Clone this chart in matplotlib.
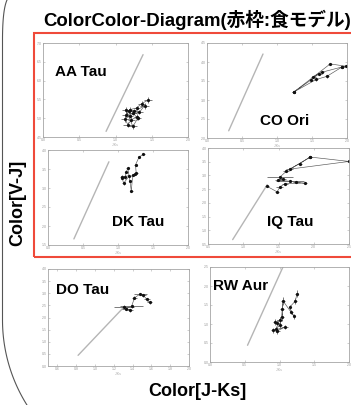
import numpy as np
import matplotlib
matplotlib.use("Agg")
import matplotlib.pyplot as plt
from matplotlib.patches import Rectangle
from matplotlib.lines import Line2D

W, H = 351, 405
plt.rcParams['font.family'] = ['Liberation Sans', 'Noto Sans CJK JP', 'DejaVu Sans']

# ---------------- data ----------------
title = "ColorColor-Diagram(赤枠:食モデル)"
xlabel = "Color[J-Ks]"
ylabel = "Color[V-J]"
names = ["AA Tau", "CO Ori", "DK Tau", "IQ Tau", "DO Tau", "RW Aur"]

# AA Tau
aa_xlim = (0.0, 2.0); aa_ylim = (4.5, 7.0)
aa_xticks = [0, 0.5, 1, 1.5, 2]; aa_yticks = [4.5, 5, 5.5, 6, 6.5, 7]
aa_line_x = [0.87, 1.38]; aa_line_y = [4.65, 6.69]
aa_x = [1.45, 1.36, 1.29, 1.20, 1.15, 1.24, 1.29, 1.22, 1.17, 1.13, 1.20, 1.33, 1.40, 1.26, 1.19, 1.14, 1.24, 1.31]
aa_y = [5.48, 5.39, 5.27, 5.23, 5.09, 5.14, 5.03, 4.96, 4.83, 4.98, 5.07, 5.16, 5.33, 5.18, 5.18, 5.23, 4.78, 5.01]
aa_xerr = [0.06, 0.05, 0.04, 0.05, 0.06, 0.05, 0.04, 0.05, 0.06, 0.05, 0.04, 0.05, 0.06, 0.05, 0.04, 0.05, 0.05, 0.04]
aa_yerr = [0.08, 0.07, 0.06, 0.08, 0.07, 0.06, 0.08, 0.07, 0.06, 0.08, 0.07, 0.06, 0.08, 0.07, 0.06, 0.08, 0.07, 0.06]

# CO Ori
co_xlim = (0.0, 2.0); co_ylim = (2.0, 4.5)
co_xticks = [0, 0.5, 1, 1.5, 2]; co_yticks = [2, 2.5, 3, 3.5, 4, 4.5]
co_line_x = [0.31, 0.80]; co_line_y = [2.19, 4.21]
co_x = [1.24, 1.76, 1.98, 1.93, 1.64, 1.52, 1.60, 1.48, 1.24, 1.56, 1.71, 1.93]
co_y = [3.21, 3.95, 3.89, 3.87, 3.73, 3.61, 3.69, 3.52, 3.21, 3.54, 3.62, 3.87]
co_xerr = [0.02, 0.03, 0.04, 0.03, 0.03, 0.03, 0.04, 0.03, 0.02, 0.03, 0.03, 0.03]
co_yerr = [0.03, 0.03, 0.03, 0.03, 0.03, 0.03, 0.03, 0.03, 0.03, 0.03, 0.03, 0.03]

# DK Tau
dk_xlim = (0.0, 2.0); dk_ylim = (1.5, 4.0)
dk_xticks = [0, 0.5, 1, 1.5, 2]; dk_yticks = [1.5, 2, 2.5, 3, 3.5, 4]
dk_line_x = [0.37, 0.87]; dk_line_y = [1.66, 3.69]
dk_x = [1.36, 1.30, 1.25, 1.26, 1.24, 1.21, 1.19, 1.17, 1.14, 1.12, 1.10, 1.06, 1.08, 1.16, 1.05]
dk_y = [3.89, 3.81, 3.61, 3.39, 3.37, 3.34, 2.92, 3.19, 3.52, 3.43, 3.28, 3.27, 3.12, 3.32, 3.30]
dk_xerr = [0.02, 0.02, 0.02, 0.02, 0.02, 0.02, 0.02, 0.02, 0.02, 0.02, 0.02, 0.02, 0.02, 0.02, 0.02]
dk_yerr = [0.03, 0.03, 0.03, 0.03, 0.03, 0.03, 0.03, 0.03, 0.03, 0.03, 0.03, 0.03, 0.03, 0.03, 0.03]

# IQ Tau
iq_xlim = (0.5, 2.5); iq_ylim = (0.5, 4.0)
iq_xticks = [0.5, 1, 1.5, 2, 2.5]; iq_yticks = [0.5, 1, 1.5, 2, 2.5, 3, 3.5, 4]
iq_line_x = [0.85, 1.34]; iq_line_y = [0.66, 2.66]
iq_x = [1.34, 1.48, 1.52, 1.59, 1.87, 1.75, 1.66, 1.49, 1.56, 1.52, 1.61, 1.95, 2.50, 1.66, 1.80, 1.95]
iq_y = [2.60, 2.40, 2.58, 2.70, 2.72, 2.75, 2.79, 2.82, 2.87, 2.94, 3.15, 3.67, 3.51, 3.23, 3.43, 3.67]
iq_xerr = [0.03, 0.03, 0.05, 0.04, 0.04, 0.05, 0.20, 0.04, 0.05, 0.18, 0.04, 0.03, 0.03, 0.05, 0.04, 0.03]
iq_yerr = [0.03, 0.03, 0.03, 0.03, 0.03, 0.03, 0.03, 0.03, 0.03, 0.03, 0.03, 0.03, 0.03, 0.03, 0.03, 0.03]

# DO Tau
do_xlim = (0.5, 2.0); do_ylim = (0.0, 4.0)
do_xticks = [0.6, 0.8, 1.0, 1.2, 1.4, 1.6, 1.8, 2.0]; do_yticks = [0, 0.5, 1, 1.5, 2, 2.5, 3, 3.5, 4]
do_line_x = [0.82, 1.31]; do_line_y = [0.44, 2.44]
do_x = [1.31, 1.37, 1.33, 1.39, 1.42, 1.48, 1.51, 1.55, 1.58]
do_y = [2.44, 2.30, 2.37, 2.47, 2.81, 2.97, 2.92, 2.76, 2.62]
do_xerr = [0.11, 0.03, 0.04, 0.12, 0.03, 0.07, 0.03, 0.03, 0.03]
do_yerr = [0.06, 0.06, 0.06, 0.06, 0.06, 0.06, 0.06, 0.06, 0.06]

# RW Aur
rw_xlim = (0.0, 2.0); rw_ylim = (0.0, 2.5)
rw_xticks = [0, 0.5, 1, 1.5, 2]; rw_yticks = [0, 0.5, 1, 1.5, 2, 2.5]
rw_line_x = [0.54, 1.05]; rw_line_y = [0.44, 2.50]
rw_x = [1.25, 1.23, 1.15, 1.17, 1.21, 1.05, 1.04, 1.03, 1.00, 0.97, 0.93, 1.01, 0.95, 0.97, 1.08, 0.91]
rw_y = [1.80, 1.61, 1.45, 1.32, 1.20, 1.61, 1.40, 1.18, 1.10, 1.03, 1.05, 0.97, 0.88, 0.82, 0.92, 0.83]
rw_xerr = [0.02, 0.02, 0.02, 0.02, 0.02, 0.03, 0.03, 0.03, 0.03, 0.04, 0.03, 0.03, 0.03, 0.03, 0.04, 0.03]
rw_yerr = [0.10, 0.08, 0.06, 0.06, 0.06, 0.10, 0.15, 0.10, 0.08, 0.08, 0.08, 0.08, 0.08, 0.08, 0.06, 0.06]

panels = [
    (aa_xlim, aa_ylim, aa_xticks, aa_yticks, aa_line_x, aa_line_y, aa_x, aa_y, aa_xerr, aa_yerr),
    (co_xlim, co_ylim, co_xticks, co_yticks, co_line_x, co_line_y, co_x, co_y, co_xerr, co_yerr),
    (dk_xlim, dk_ylim, dk_xticks, dk_yticks, dk_line_x, dk_line_y, dk_x, dk_y, dk_xerr, dk_yerr),
    (iq_xlim, iq_ylim, iq_xticks, iq_yticks, iq_line_x, iq_line_y, iq_x, iq_y, iq_xerr, iq_yerr),
    (do_xlim, do_ylim, do_xticks, do_yticks, do_line_x, do_line_y, do_x, do_y, do_xerr, do_yerr),
    (rw_xlim, rw_ylim, rw_xticks, rw_yticks, rw_line_x, rw_line_y, rw_x, rw_y, rw_xerr, rw_yerr),
]

# ---------------- layout (pixels) ----------------
boxes = [(43, 43, 188, 137), (207, 43, 347, 138),
         (48, 150, 188, 245), (208, 148, 349, 244),
         (48, 269, 189, 366), (210, 267, 349, 362)]
label_pos = [(55, 72), (260, 121), (112, 222), (267, 222), (56, 289.5), (213, 286)]

fig = plt.figure(figsize=(W / 100, H / 100), dpi=100)
fig.patch.set_facecolor('white')

def fx(x):
    return x / W

def fy(y):
    return 1 - y / H

for (x0, y0, x1, y1), p, name, (lx, ly) in zip(boxes, panels, names, label_pos):
    xlim, ylim, xt, yt, lnx, lny, dx, dy, ex, ey = p
    ax = fig.add_axes([fx(x0), fy(y1), (x1 - x0) / W, (y1 - y0) / H])
    ax.set_xlim(*xlim); ax.set_ylim(*ylim)
    ax.set_xticks(xt); ax.set_yticks(yt)
    ax.tick_params(direction='in', length=1.5, width=0.4, colors='#aaaaaa',
                   labelsize=2.5, labelcolor='#999999', pad=1,
                   top=True, right=True)
    for s in ax.spines.values():
        s.set_color('#a5a5a5'); s.set_linewidth(0.6)
    ax.set_xlabel('J-Ks', fontsize=2.5, color='#aaaaaa', labelpad=0.5)
    ax.plot(lnx, lny, color='#b5b5b5', lw=1.0, solid_capstyle='round')
    ax.errorbar(dx, dy, xerr=ex, yerr=ey, fmt='-o', color='#555555', lw=0.45,
                ecolor='#333333', elinewidth=0.45, markersize=1.3,
                markerfacecolor='#111111', markeredgecolor='#111111')
    fig.text(fx(lx), fy(ly), name, fontsize=11, fontweight='bold',
             ha='left', va='center', color='black')

# red frame
fig.add_artist(Rectangle((fx(34), fy(257)), (362 - 34) / W, (257 - 33) / H,
                         transform=fig.transFigure, fill=False,
                         edgecolor='#ef4a3a', lw=1.5))

# rounded slide border on the left
R = 160.0
t = np.linspace(np.pi, np.pi - np.arcsin(85 / R), 40)
arc_x = 2.5 + R + R * np.cos(t)
arc_y = 320 + R * np.sin(np.pi - t)
top_t = np.linspace(0, 1, 20)
top_x = (1 - top_t) ** 2 * 7 + 2 * (1 - top_t) * top_t * 2.5 + top_t ** 2 * 2.5
top_y = (1 - top_t) ** 2 * 0 + 2 * (1 - top_t) * top_t * 10 + top_t ** 2 * 40
bx = np.concatenate([top_x, [2.5], arc_x])
by = np.concatenate([top_y, [320], arc_y])
fig.add_artist(Line2D(fx(bx), fy(by), transform=fig.transFigure,
                      color='#555555', lw=0.8))

# texts
fig.text(fx(43), fy(20), title, fontsize=13.4, fontweight='bold',
         ha='left', va='center', color='black')
fig.text(fx(18), fy(203), ylabel, fontsize=13, fontweight='bold',
         rotation=90, ha='center', va='center', color='black')
fig.text(fx(197), fy(391), xlabel, fontsize=13, fontweight='bold',
         ha='center', va='center', color='black')

fig.savefig('out.png', dpi=100, facecolor='white')
